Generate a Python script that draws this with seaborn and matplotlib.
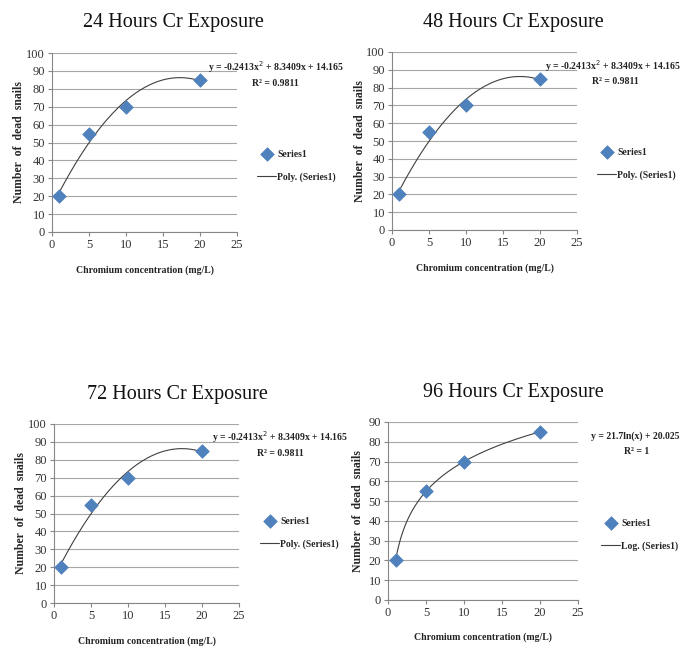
import matplotlib.pyplot as plt
import numpy as np
import pandas as pd
import seaborn as sns

# Data
concentration = [1, 5, 10, 20]
dead_24h = [20, 55, 70, 85]
dead_48h = [20, 55, 70, 85]
dead_72h = [20, 55, 70, 85]
dead_96h = [20, 55, 70, 85]

titles = ['24 Hours Cr Exposure', '48 Hours Cr Exposure', '72 Hours Cr Exposure', '96 Hours Cr Exposure']
fit_kind = ['poly', 'poly', 'poly', 'log']
y_max = [100, 100, 100, 90]

sns.set_style('white')
plt.rcParams['font.family'] = ['Liberation Serif', 'DejaVu Serif']

fig = plt.figure(figsize=(6.81, 6.48), dpi=100)
W, H = 681, 648


def px_axes(left, top, right, bottom):
    return fig.add_axes([left / W, 1 - bottom / H, (right - left) / W, (bottom - top) / H])


# pixel boxes of each plot area: left, top, right, bottom
boxes = [(52, 53, 237, 232), (392, 52, 577, 230), (54, 424, 239, 603), (388, 422, 578, 600)]
title_pos = [(173, 22), (513, 22), (177, 395), (513, 393)]
eq_pos = [(276, 67, 275, 83), (613, 66, 615, 82), (280, 437, 280, 453), (635, 436, 637, 451)]
legend_pos = [(253, 146), (593, 144), (256, 513), (597, 515)]
ylabel_x = [19, 360, 21, 358]
xlabel_y = [270, 268, 641, 637]

series = [dead_24h, dead_48h, dead_72h, dead_96h]

for i in range(4):
    ax = px_axes(*boxes[i])
    df = pd.DataFrame({'x': concentration, 'y': series[i]})
    x = np.array(concentration, dtype=float)
    y = np.array(series[i], dtype=float)
    xs = np.linspace(1, 20, 200)
    if fit_kind[i] == 'poly':
        c = np.polyfit(x, y, 2)
        ys = np.polyval(c, xs)
        fit_label = 'Poly. (Series1)'
        eq = 'y = -0.2413x$^{2}$ + 8.3409x + 14.165'
        r2 = 'R² = 0.9811'
    else:
        c = np.polyfit(np.log(x), y, 1)
        ys = c[0] * np.log(xs) + c[1]
        fit_label = 'Log. (Series1)'
        eq = 'y = 21.7ln(x) + 20.025'
        r2 = 'R² = 1'

    ax.yaxis.grid(True, color='#a6a6a6', linewidth=0.8)
    ax.set_axisbelow(True)
    sns.scatterplot(data=df, x='x', y='y', marker='D', s=48, color='#4f81bd',
                    edgecolor='#4f81bd', linewidth=0.5, label='Series1', ax=ax, zorder=3)
    sns.lineplot(x=xs, y=ys, color='#404040', linewidth=0.8, label=fit_label, ax=ax, zorder=2)

    ax.set_xlim(0, 25)
    ax.set_ylim(0, y_max[i])
    ax.set_xticks(range(0, 26, 5))
    ax.set_yticks(range(0, y_max[i] + 1, 10))
    ax.tick_params(axis='both', labelsize=9, length=3, color='#868686', direction='out',
                   left=True, bottom=True, pad=2, labelcolor='#333333')
    for s in ['top', 'right']:
        ax.spines[s].set_visible(False)
    for s in ['left', 'bottom']:
        ax.spines[s].set_color('#868686')
        ax.spines[s].set_linewidth(0.8)
    ax.set_xlabel('')
    ax.set_ylabel('')

    fig.text(title_pos[i][0] / W, 1 - title_pos[i][1] / H, titles[i], ha='center', va='center',
             fontsize=14.5, color='#111111')
    fig.text(ylabel_x[i] / W, 1 - (boxes[i][1] + boxes[i][3]) / 2 / H, 'Number  of  dead  snails',
             rotation=90, ha='center', va='center', fontsize=8.5, fontweight='bold')
    fig.text((boxes[i][0] + boxes[i][2]) / 2 / W, 1 - xlabel_y[i] / H, 'Chromium concentration (mg/L)',
             ha='center', va='center', fontsize=7, fontweight='bold', color='#222222')
    fig.text(eq_pos[i][0] / W, 1 - eq_pos[i][1] / H, eq, ha='center', va='center',
             fontsize=7, fontweight='bold', color='#222222')
    fig.text(eq_pos[i][2] / W, 1 - eq_pos[i][3] / H, r2, ha='center', va='center',
             fontsize=7, fontweight='bold', color='#222222')

    ax.legend(loc='upper left', bbox_to_anchor=(legend_pos[i][0] / W, 1 - legend_pos[i][1] / H),
              bbox_transform=fig.transFigure, frameon=False, handlelength=2,
              handletextpad=0.1, labelspacing=1.4, borderaxespad=0,
              prop={'weight': 'bold', 'size': 7})

fig.savefig('out.png', dpi=100)
